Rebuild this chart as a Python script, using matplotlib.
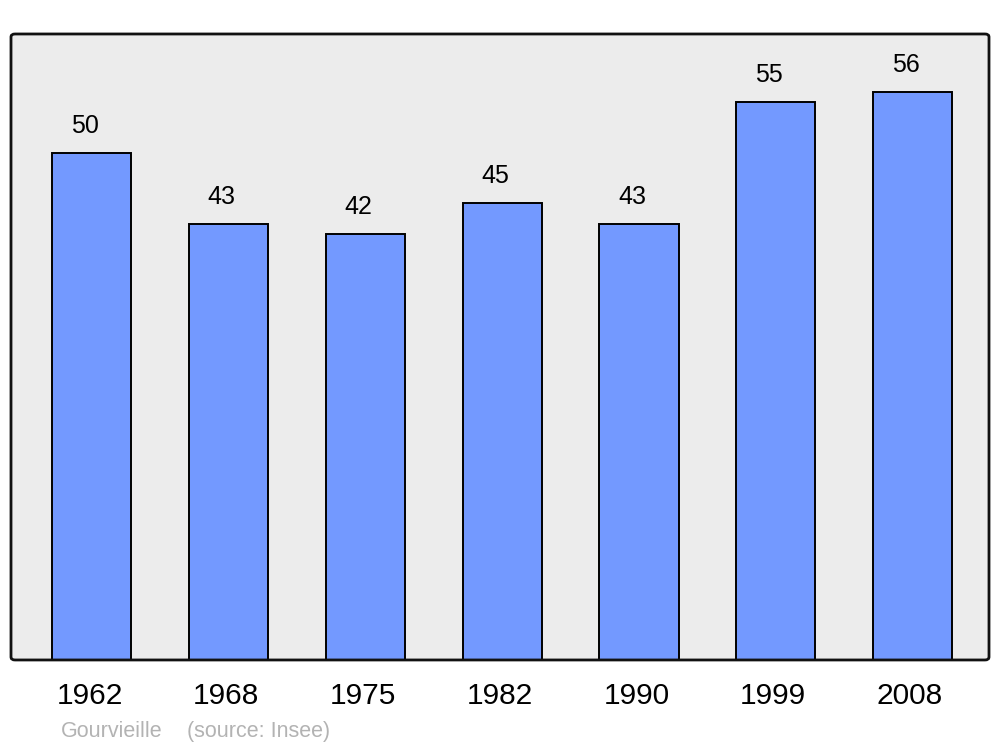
import matplotlib
matplotlib.use("Agg")
import matplotlib.pyplot as plt
import matplotlib.transforms as mtransforms
from matplotlib.patches import FancyBboxPatch

years = ["1962", "1968", "1975", "1982", "1990", "1999", "2008"]
population = [50, 43, 42, 45, 43, 55, 56]

plt.rcParams['font.family'] = ['Liberation Sans', 'DejaVu Sans']

fig = plt.figure(figsize=(10, 7.47), dpi=100)
ax = fig.add_axes([0.011, 0.1165, 0.978, 0.838])
ax.set_facecolor('#ececec')

x = list(range(len(years)))
bars = ax.bar(x, population, width=0.578, color='#7399ff', edgecolor='black',
              linewidth=1.4, zorder=2)
for xi, v in zip(x, population):
    ax.annotate(str(v), (xi, v), xytext=(-7, 15), textcoords='offset pixels',
                ha='center', va='bottom', fontsize=18, color='black')

ax.set_xlim(-0.592, 6.559)
ax.set_ylim(0, 61.7)
ax.set_yticks([])
ax.set_xticks(x)
ax.set_xticklabels(years, fontsize=21.5)
ax.tick_params(axis='x', length=0, pad=16)
shift = mtransforms.ScaledTranslation(-2.5 / 100, 0, fig.dpi_scale_trans)
for lbl in ax.get_xticklabels():
    lbl.set_transform(lbl.get_transform() + shift)
for s in ax.spines.values():
    s.set_visible(False)

frame = FancyBboxPatch((0.011, 0.1165), 0.978, 0.838,
                       boxstyle="round,pad=0,rounding_size=0.004",
                       transform=fig.transFigure, fill=False,
                       edgecolor='#111111', linewidth=2.0, zorder=5)
fig.patches.append(frame)

fig.text(0.061, 0.0134, "Gourvieille", color='#b3b3b3', fontsize=15.5, ha='left', va='baseline')
fig.text(0.187, 0.0134, "(source: Insee)", color='#b3b3b3', fontsize=15.5, ha='left', va='baseline')

fig.savefig('out.png', dpi=100)
